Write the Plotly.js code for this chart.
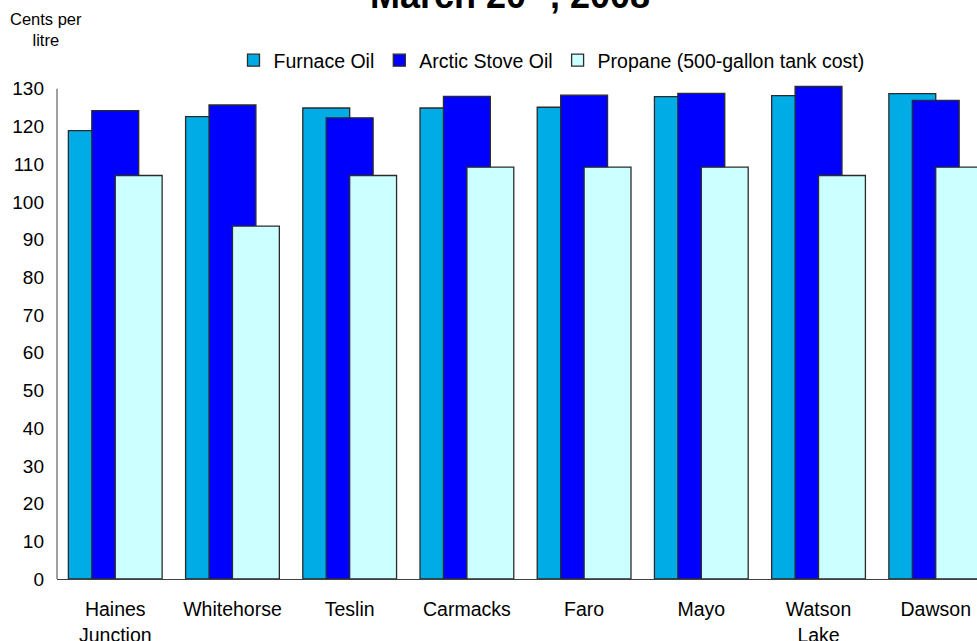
<!DOCTYPE html>
<html>
<head>
<meta charset="utf-8">
<script src="https://cdn.plot.ly/plotly-3.0.1.min.js"></script>
<style>
  html, body { margin: 0; padding: 0; background: #ffffff; }
  #chart { width: 977px; height: 641px; }
</style>
</head>
<body>
<div id="chart"></div>
<script>
const communities = ["Haines<br>Junction", "Whitehorse", "Teslin", "Carmacks", "Faro", "Mayo", "Watson<br>Lake", "Dawson"];
const furnaceOil = [118.9, 122.6, 124.9, 124.9, 125.1, 127.9, 128.2, 128.7];
const arcticStoveOil = [124.2, 125.7, 122.3, 128.0, 128.3, 128.8, 130.6, 126.9];
const propane = [107.0, 93.6, 107.0, 109.2, 109.2, 109.2, 107.0, 109.2];
const seriesNames = ["Furnace Oil", "Arctic Stove Oil", "Propane (500-gallon tank cost)"];
const yTicks = [0, 10, 20, 30, 40, 50, 60, 70, 80, 90, 100, 110, 120, 130];

const FONT = 'Arial, "Liberation Sans", Helvetica, sans-serif';
const edge = { color: '#2b2b2b', width: 1.3 };

function barTrace(name, values, color, offset) {
  return {
    type: 'bar',
    name: name,
    x: communities,
    y: values,
    width: 0.4,
    offset: offset,
    marker: { color: color, line: edge },
    hoverinfo: 'x+y+name'
  };
}

const data = [
  barTrace(seriesNames[0], furnaceOil, '#00ACE6', -0.4),
  barTrace(seriesNames[1], arcticStoveOil, '#0000FF', -0.2),
  barTrace(seriesNames[2], propane, '#CCFFFF', 0.0)
];

const layout = {
  width: 977,
  height: 641,
  margin: { l: 57, r: 0, t: 84.5, b: 62, pad: 0 },
  paper_bgcolor: '#ffffff',
  plot_bgcolor: '#ffffff',
  font: { family: FONT, size: 19, color: '#000000' },
  barmode: 'overlay',
  title: {
    text: 'March 20<sup>th</sup>, 2008',
    font: { family: FONT, size: 36, weight: 700, color: '#000000' },
    xref: 'container', yref: 'container',
    x: 510 / 977, xanchor: 'center',
    y: 1 - 8 / 641, yanchor: 'bottom'
  },
  showlegend: true,
  legend: {
    orientation: 'h',
    x: 0.5375, xanchor: 'center',
    y: (579 - 60) / 494.5, yanchor: 'middle',
    font: { family: FONT, size: 19.5, color: '#000000' },
    bgcolor: 'rgba(0,0,0,0)',
    traceorder: 'normal'
  },
  xaxis: {
    type: 'category',
    range: [-0.497, 7.352],
    showgrid: false,
    zeroline: false,
    showline: true,
    linecolor: '#404040',
    linewidth: 1,
    ticks: '',
    ticklabelstandoff: 13,
    tickfont: { family: FONT, size: 19.5, color: '#000000' },
    fixedrange: true
  },
  yaxis: {
    range: [0, 131],
    tickvals: yTicks,
    ticktext: yTicks.map(String),
    showgrid: false,
    zeroline: false,
    showline: false,
    ticks: '',
    ticklabelstandoff: 12,
    tickfont: { family: FONT, size: 19, color: '#000000' },
    fixedrange: true
  },
  shapes: [
    {
      type: 'line', xref: 'paper', yref: 'y',
      x0: 0, x1: 0, y0: 0, y1: 130,
      line: { color: '#404040', width: 1 }
    }
  ],
  annotations: [
    {
      text: 'Cents per<br>litre',
      xref: 'paper', yref: 'paper',
      x: (45.5 - 57) / 920, xanchor: 'center',
      y: (579 - 28.5) / 494.5, yanchor: 'middle',
      showarrow: false,
      align: 'center',
      font: { family: FONT, size: 16.5, color: '#000000' }
    }
  ]
};

Plotly.newPlot('chart', data, layout, { displayModeBar: false, staticPlot: true });
</script>
</body>
</html>
